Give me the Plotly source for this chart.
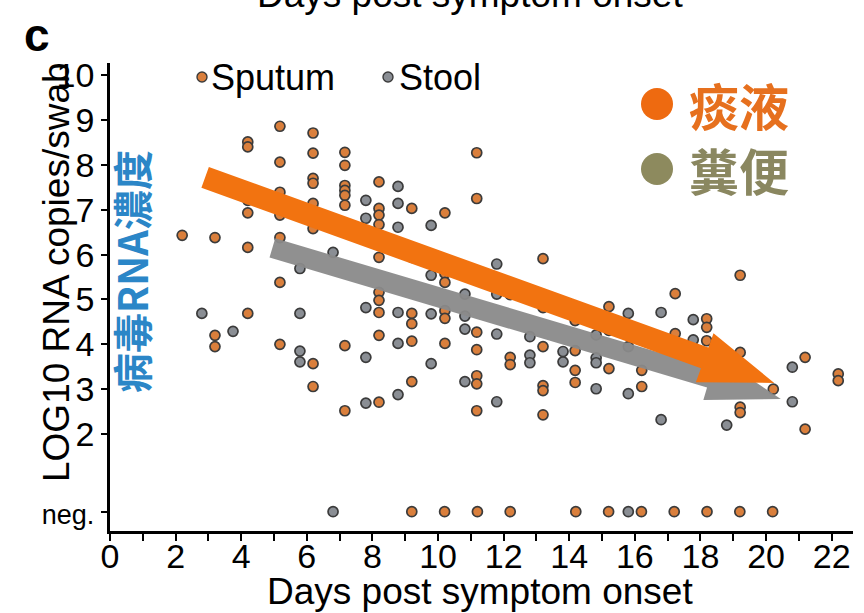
import plotly.graph_objects as go

# ---------------- data ----------------
sputum_days = (
    [2.20] +
    [3.20] * 3 +
    [4.20] * 6 +
    [5.18] * 7 +
    [6.19] * 8 +
    [7.16] * 8 +
    [8.20] * 10 +
    [9.20] * 6 +
    [10.21] * 6 +
    [11.18] * 7 +
    [12.20] * 3 +
    [13.20] * 6 +
    [14.18] * 4 +
    [15.21] * 3 +
    [16.21] * 2 +
    [17.23] * 2 +
    [18.19] * 3 +
    [19.21] * 4 +
    [20.22] * 1 +
    [21.19] * 2 +
    [22.20] * 2
)
sputum_vals = [
    6.43,
    6.38, 4.20, 3.95,
    8.51, 8.40, 7.21, 6.93, 6.16, 4.69,
    8.86, 8.06, 7.39, 6.88, 6.38, 5.38, 4.00,
    8.71, 8.26, 7.70, 7.59, 7.14, 6.58, 3.57, 3.06,
    8.28, 7.99, 7.54, 7.43, 7.32, 7.10, 3.97, 2.52,
    7.62, 7.03, 6.88, 6.67, 5.94, 5.16, 4.98, 4.71, 4.20, 2.71,
    7.03, 5.94, 4.69, 4.46, 4.07, 3.17,
    6.93, 5.58, 5.38, 4.75, 4.58, 4.02,
    8.27, 7.25, 4.27, 3.88, 3.30, 3.12, 2.52,
    5.11, 3.71, 3.55,
    5.91, 4.82, 3.95, 3.08, 2.97, 2.43,
    4.53, 3.86, 3.42, 3.15,
    4.84, 4.31, 3.46,
    3.42, 3.06,
    5.13, 4.24,
    4.57, 4.38, 4.08,
    5.54, 3.82, 2.60, 2.48,
    3.00,
    3.71, 2.11,
    3.34, 3.19,
]

stool_days = (
    [2.80] + [3.75] +
    [5.79] * 4 +
    [6.80] * 1 +
    [7.80] * 5 +
    [8.78] * 6 +
    [9.79] * 4 +
    [10.82] * 4 +
    [11.79] * 4 +
    [12.80] * 3 +
    [13.81] * 2 +
    [14.82] * 4 +
    [15.80] * 3 +
    [16.80] * 2 +
    [17.78] * 2 +
    [18.80] * 1 +
    [20.80] * 2
)
stool_vals = [
    4.69, 4.29,
    5.69, 4.69, 3.85, 3.61,
    6.05,
    7.21, 6.81, 4.82, 3.71, 2.69,
    7.52, 7.14, 6.61, 4.71, 4.02, 2.88,
    6.65, 5.54, 4.68, 3.57,
    5.12, 4.63, 4.34, 3.17,
    5.79, 5.12, 4.23, 2.72,
    4.17, 3.76, 3.59,
    3.84, 3.61,
    4.21, 3.70, 3.59, 3.01,
    4.69, 3.95, 2.90,
    4.71, 2.32,
    4.55, 4.10,
    2.20,
    3.49, 2.72,
]

NEG_LEVEL = 0.27
sputum_neg_days = [9.2, 10.2, 11.2, 12.2, 14.2, 15.2, 16.2, 17.2, 18.2, 19.2, 20.2]
stool_neg_days = [6.8, 15.8]

y_tick_vals = [NEG_LEVEL, 2, 3, 4, 5, 6, 7, 8, 9, 10]
y_tick_text = ["<span style='font-size:27px'>neg.</span>",
               "2", "3", "4", "5", "6", "7", "8", "9", "10"]
x_tick_vals = list(range(0, 23, 2))

# trend arrows: (start day, start value, end day, end value)
sputum_trend = [2.90, 7.72, 20.25, 3.14]
stool_trend = [4.95, 6.15, 20.45, 2.78]

# ---------------- styling ----------------
X_RANGE = [0, 22.65]
Y_RANGE = [-0.16, 10.27]
SPUTUM_FILL = "#DA7F3C"
STOOL_FILL = "#8A8E94"
EDGE = "#3b3b3b"
FONT = "Liberation Sans, Arial, sans-serif"
CJK = "Noto Sans CJK TC, sans-serif"

W, H = 864, 613
ML, MR, MT, MB = 110, 11, 63, 82
PW, PH = W - ML - MR, H - MT - MB
KX = PW / (X_RANGE[1] - X_RANGE[0])
KY = PH / (Y_RANGE[1] - Y_RANGE[0])


def arrow_path(trend, shaft_w, head_w, head_len):
    x0, y0, x1, y1 = trend
    p0 = (x0 * KX, y0 * KY)
    p1 = (x1 * KX, y1 * KY)
    dx, dy = p1[0] - p0[0], p1[1] - p0[1]
    L = (dx ** 2 + dy ** 2) ** 0.5
    ux, uy = dx / L, dy / L
    nx, ny = -uy, ux
    bx, by = p1[0] - ux * head_len, p1[1] - uy * head_len
    pts = [
        (p0[0] + nx * shaft_w / 2, p0[1] + ny * shaft_w / 2),
        (bx + nx * shaft_w / 2, by + ny * shaft_w / 2),
        (bx + nx * head_w / 2, by + ny * head_w / 2),
        p1,
        (bx - nx * head_w / 2, by - ny * head_w / 2),
        (bx - nx * shaft_w / 2, by - ny * shaft_w / 2),
        (p0[0] - nx * shaft_w / 2, p0[1] - ny * shaft_w / 2),
    ]
    s = "M " + " L ".join(f"{px / KX:.4f},{py / KY:.4f}" for px, py in pts) + " Z"
    return s


marker_s = dict(size=10, color=SPUTUM_FILL, line=dict(color=EDGE, width=1.7))
marker_t = dict(size=10, color=STOOL_FILL, line=dict(color=EDGE, width=1.7))

fig = go.Figure()
fig.add_trace(go.Scatter(x=stool_days, y=stool_vals, mode="markers", marker=marker_t,
                         name="Stool", showlegend=False, cliponaxis=False))
fig.add_trace(go.Scatter(x=sputum_days, y=sputum_vals, mode="markers", marker=marker_s,
                         name="Sputum", showlegend=False, cliponaxis=False))
fig.add_trace(go.Scatter(x=stool_neg_days, y=[NEG_LEVEL] * len(stool_neg_days), mode="markers",
                         marker=marker_t, showlegend=False))
fig.add_trace(go.Scatter(x=sputum_neg_days, y=[NEG_LEVEL] * len(sputum_neg_days), mode="markers",
                         marker=marker_s, showlegend=False))

# arrows
fig.add_shape(type="path", path=arrow_path(stool_trend, 20, 46, 74), xref="x", yref="y",
              fillcolor="#8a8a8a", line=dict(width=0), layer="above", opacity=0.95)
fig.add_shape(type="path", path=arrow_path(sputum_trend, 22, 52, 74), xref="x", yref="y",
              fillcolor="#F27310", line=dict(width=0), layer="above")


def px2paper(px, py):
    return (px - ML) / PW, (H - MB - py) / PH


annotations = []


def add_text(px, py, text, size, color="black", family=FONT, xanchor="center",
             yanchor="middle", angle=0):
    x, y = px2paper(px, py)
    annotations.append(dict(x=x, y=y, xref="paper", yref="paper", text=text, showarrow=False,
                            font=dict(size=size, color=color, family=family),
                            xanchor=xanchor, yanchor=yanchor, textangle=angle))


def add_circle(px, py, r, color, line_color=None):
    x0, y0 = px2paper(px - r, py + r)
    x1, y1 = px2paper(px + r, py - r)
    fig.add_shape(type="circle", xref="paper", yref="paper", x0=x0, y0=y0, x1=x1, y1=y1,
                  fillcolor=color, line=dict(width=1.4 if line_color else 0,
                                             color=line_color or color), layer="above")


# panel letter and cut-off title at the very top
add_text(37, 35, "<b>c</b>", 46)
add_text(470, -6, "Days post symptom onset", 37)

# axis titles
add_text(480, 591, "Days post symptom onset", 37)
add_text(56, 272, "LOG10 RNA copies/swab", 37, angle=-90)

# small legend
add_circle(202, 77, 5, SPUTUM_FILL, EDGE)
add_text(209, 77, "Sputum", 36, xanchor="left")
add_circle(388, 77, 5, STOOL_FILL, EDGE)
add_text(397, 77, "Stool", 36, xanchor="left")

# Chinese legend (one two-line text block)
add_circle(657, 104, 16, "#EE6A10")
add_circle(657, 169, 16, "#8D8A5E")
add_text(687, 136,
         "<b><span style='color:#E6701E'>痰液</span><br>"
         "<span style='color:#8A8760'>糞便</span></b>",
         50, color="#E6701E", family=CJK, xanchor="left")

# blue vertical label
add_text(131, 272, "<b>病毒RNA濃度</b>", 40, color="#2B86C7", family=CJK, angle=-90)

fig.update_layout(
    width=W, height=H,
    margin=dict(l=ML, r=MR, t=MT, b=MB, autoexpand=False),
    paper_bgcolor="white", plot_bgcolor="white",
    font=dict(family=FONT, color="black"),
    annotations=annotations,
    showlegend=False,
)
fig.update_xaxes(
    range=X_RANGE, tickvals=x_tick_vals, ticks="outside", ticklen=7, tickwidth=2,
    tickcolor="black", showline=True, linewidth=2.8, linecolor="black", automargin=False,
    showgrid=False, zeroline=False, tickfont=dict(size=34, family=FONT),
    ticklabelstandoff=-14,
    minor=dict(dtick=1, tick0=0, ticks="outside", ticklen=7, tickwidth=2, tickcolor="black"),
)
fig.update_yaxes(
    range=Y_RANGE, tickvals=y_tick_vals, ticktext=y_tick_text, ticks="outside", ticklen=6,
    tickwidth=2, tickcolor="black", showline=True, linewidth=2.8, linecolor="black",
    automargin=False, showgrid=False, zeroline=False, tickfont=dict(size=34, family=FONT),
)

fig.write_html(
    "out.html",
    config={"displayModeBar": False},
    post_script="document.body.style.margin='0';document.body.style.overflow='hidden';",
)
